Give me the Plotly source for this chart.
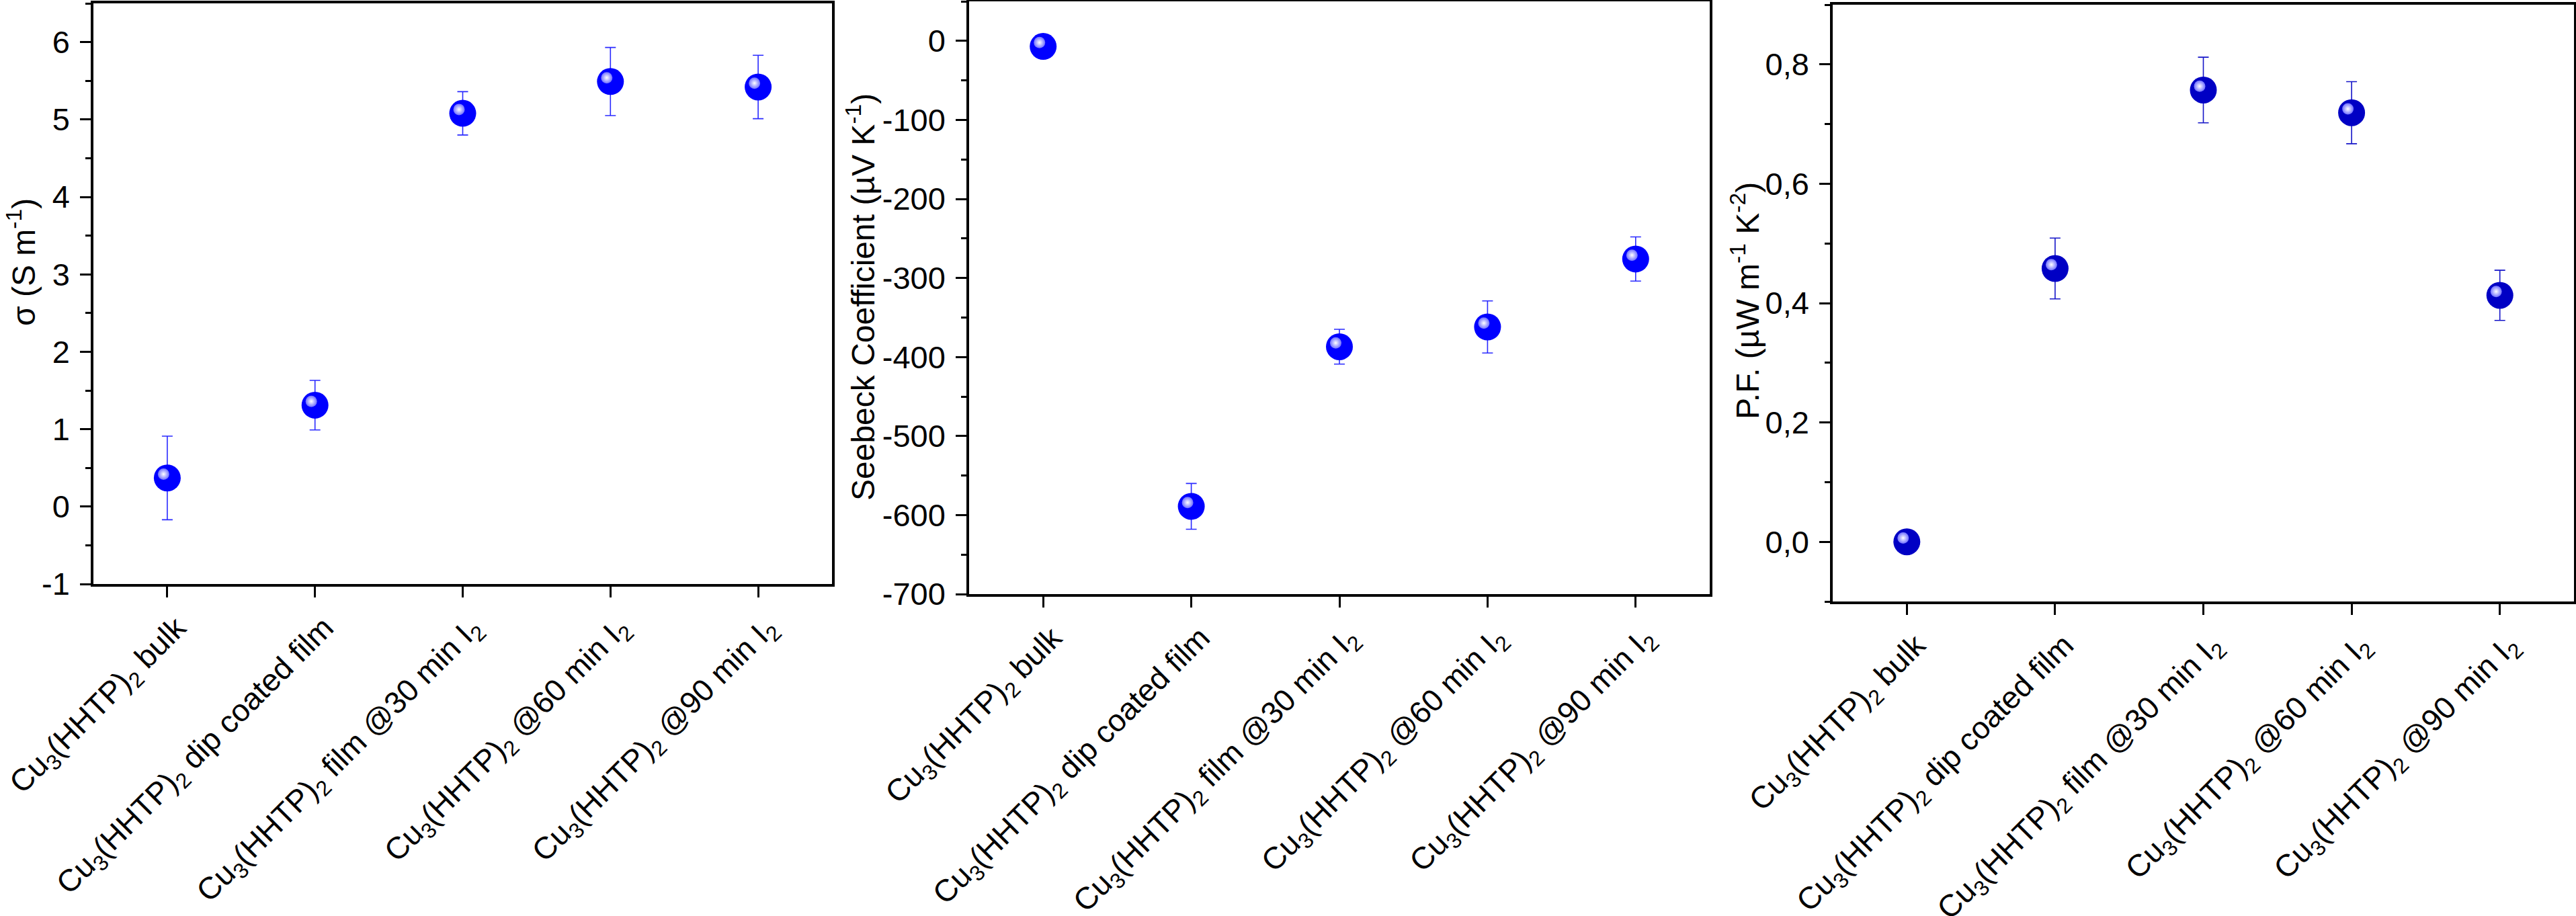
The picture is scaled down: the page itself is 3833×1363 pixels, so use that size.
import plotly.graph_objects as go

# ---------------- data ----------------
category_labels = [
    "Cu<sub>3</sub>(HHTP)<sub>2</sub> bulk",
    "Cu<sub>3</sub>(HHTP)<sub>2</sub> dip coated film",
    "Cu<sub>3</sub>(HHTP)<sub>2</sub> film @30 min I<sub>2</sub>",
    "Cu<sub>3</sub>(HHTP)<sub>2</sub> @60 min I<sub>2</sub>",
    "Cu<sub>3</sub>(HHTP)<sub>2</sub> @90 min I<sub>2</sub>",
]

sigma = [0.37, 1.31, 5.08, 5.49, 5.42]
sigma_err = [0.54, 0.32, 0.28, 0.44, 0.41]

seebeck = [-7, -589, -387, -362, -276]
seebeck_err = [3, 29, 22, 33, 28]

pf = [0.0, 0.458, 0.757, 0.719, 0.413]
pf_err = [0.0, 0.051, 0.055, 0.052, 0.042]

sigma_tickvals = [-1, 0, 1, 2, 3, 4, 5, 6]
sigma_ticktext = ["-1", "0", "1", "2", "3", "4", "5", "6"]
seebeck_tickvals = [-700, -600, -500, -400, -300, -200, -100, 0]
seebeck_ticktext = ["-700", "-600", "-500", "-400", "-300", "-200", "-100", "0"]
pf_tickvals = [0.0, 0.2, 0.4, 0.6, 0.8]
pf_ticktext = ["0,0", "0,2", "0,4", "0,6", "0,8"]

titles = [
    "\u03c3 (S m<sup>-1</sup>)",
    "Seebeck Coefficient (\u00b5V K<sup>-1</sup>)",
    "P.F. (\u00b5W m<sup>-1</sup> K<sup>-2</sup>)",
]

# ---------------- layout geometry (pixels) ----------------
W, H = 3833, 1363
FONT = "Liberation Sans, Arial, sans-serif"

panels = [
    dict(box=(139, 1238, 5, 869), yrange=[-1, 6.5], tv=sigma_tickvals, tt=sigma_ticktext,
         minor=0.5, y=sigma, err=sigma_err, color="#0000FF", ecolor="#2A2AFF",
         title_xy=(32, 390)),
    dict(box=(1442, 2544, 2, 884), yrange=[-700, 50], tv=seebeck_tickvals, tt=seebeck_ticktext,
         minor=50, y=seebeck, err=seebeck_err, color="#0000FF", ecolor="#2A2AFF",
         title_xy=(1281, 442)),
    dict(box=(2727, 3830, 7, 895), yrange=[-0.1, 0.9], tv=pf_tickvals, tt=pf_ticktext,
         minor=0.1, y=pf, err=pf_err, color="#0000C4", ecolor="#1515C8",
         title_xy=(2597, 448)),
]

HL_DX, HL_DY = -5.5, -5.7  # highlight offset in pixels (up-left)

fig = go.Figure()
layout = dict(
    width=W, height=H,
    margin=dict(l=0, r=0, t=0, b=0),
    paper_bgcolor="white", plot_bgcolor="rgba(0,0,0,0)",
    showlegend=False,
    font=dict(family=FONT, color="black"),
    annotations=[],
)

for i, p in enumerate(panels, start=1):
    l, r, t, b = p["box"]
    xd = [l / W, r / W]
    yd = [1 - b / H, 1 - t / H]
    xa = "xaxis" if i == 1 else f"xaxis{i}"
    ya = "yaxis" if i == 1 else f"yaxis{i}"
    xref = "x" if i == 1 else f"x{i}"
    yref = "y" if i == 1 else f"y{i}"

    layout[xa] = dict(
        domain=xd, anchor=yref, type="category",
        categoryorder="array", categoryarray=category_labels,
        range=[-0.5, 4.5],
        showline=True, linecolor="black", linewidth=3.5, mirror=True,
        ticks="outside", ticklen=16, tickwidth=3, tickcolor="black",
        tickangle=-45, showgrid=False, zeroline=False,
        tickfont=dict(family=FONT, size=46, color="black"),
        ticklabelshift=14,
        automargin=False,
    )
    layout[ya] = dict(
        domain=yd, anchor=xref, range=p["yrange"],
        tickmode="array", tickvals=p["tv"], ticktext=p["tt"],
        showline=True, linecolor="black", linewidth=3.5, mirror=True,
        ticks="outside", ticklen=16, tickwidth=3, tickcolor="black",
        minor=dict(dtick=p["minor"], tick0=0, ticks="outside", ticklen=8,
                   tickwidth=3, tickcolor="black", showgrid=False),
        showgrid=False, zeroline=False,
        tickfont=dict(family=FONT, size=47, color="black"),
        ticklabelstandoff=6,
        automargin=False,
    )

    # hidden, slightly shifted axes for the specular highlight of the spheres
    j = i + 3
    ymin, ymax = p["yrange"]
    top_s = t + HL_DY
    bot_s = b + HL_DY
    top_c = max(top_s, 0.0)
    ymax_c = ymax - (top_c - top_s) / (b - t) * (ymax - ymin)
    layout[f"xaxis{j}"] = dict(
        domain=[(l + HL_DX) / W, (r + HL_DX) / W], anchor=f"y{j}", type="category",
        categoryorder="array", categoryarray=category_labels, range=[-0.5, 4.5],
        visible=False, automargin=False,
    )
    layout[f"yaxis{j}"] = dict(
        domain=[1 - bot_s / H, 1 - top_c / H], anchor=f"x{j}",
        range=[ymin, ymax_c], visible=False, automargin=False,
    )

    fig.add_trace(go.Scatter(
        x=category_labels, y=p["y"], mode="markers", xaxis=xref, yaxis=yref,
        marker=dict(size=40, color=p["color"], line=dict(width=0)),
        error_y=dict(type="data", array=p["err"], visible=True,
                     color=p["ecolor"], thickness=1.6, width=8),
        cliponaxis=False,
    ))
    fig.add_trace(go.Scatter(
        x=category_labels, y=p["y"], mode="markers", xaxis=f"x{j}", yaxis=f"y{j}",
        marker=dict(size=17, color="#7070FF", line=dict(width=0),
                    gradient=dict(type="radial", color="white")),
        cliponaxis=False, hoverinfo="skip",
    ))

    tx, ty = p["title_xy"]
    layout["annotations"].append(dict(
        text=titles[i - 1], xref="paper", yref="paper",
        x=tx / W, y=1 - ty / H, xanchor="center", yanchor="middle",
        textangle=-90, showarrow=False,
        font=dict(family=FONT, size=48, color="black"),
    ))

fig.update_layout(**layout)

fig.write_html("out.html", config={"displayModeBar": False},
               post_script="document.body.style.margin='0px';document.body.style.overflow='hidden';")
